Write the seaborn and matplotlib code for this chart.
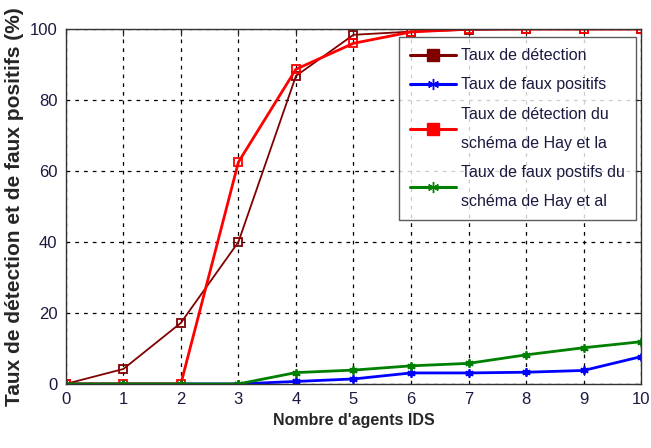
import numpy as np
import pandas as pd
import matplotlib
matplotlib.use("Agg")
import matplotlib.pyplot as plt
from matplotlib.lines import Line2D
import seaborn as sns

# nombre d'agents IDS
agents = [0, 1, 2, 3, 4, 5, 6, 7, 8, 9, 10]

# series
taux_detection = [0, 4.2, 17.2, 40, 86.8, 98.4, 99.3, 99.8, 100, 100, 100]
taux_faux_positifs = [0, 0, 0, 0, 0.7, 1.4, 3.1, 3.1, 3.3, 3.8, 7.7]
taux_detection_hay = [0, 0, 0, 62.5, 88.7, 96, 99.2, 100, 100, 100, 100]
taux_faux_hay = [0, 0, 0, 0, 3.2, 3.9, 5.1, 5.8, 8.2, 10.2, 11.9]

labels = ["Taux de détection",
          "Taux de faux positifs",
          "Taux de détection du\nschéma de Hay et la",
          "Taux de faux postifs du\nschéma de Hay et al"]
colors = ["#800000", "#0000ff", "#ff0000", "#008000"]
asterisk = (6, 2, 0)
markers = ["s", asterisk, "s", asterisk]
widths = [1.3, 2.0, 2.0, 2.0]

sns.set_style("white")
plt.rcParams['font.family'] = ['Liberation Sans', 'DejaVu Sans']

fig = plt.figure(figsize=(6.51, 4.48), dpi=100)
ax = fig.add_axes([0.101, 0.143, 0.884, 0.792])

series = [taux_detection, taux_faux_positifs, taux_detection_hay, taux_faux_hay]
for vals, c, m, lw in zip(series, colors, markers, widths):
    df = pd.DataFrame({'x': agents, 'y': vals})
    sns.lineplot(data=df, x='x', y='y', ax=ax, color=c, lw=lw, marker=m,
                 markersize=6, markerfacecolor='none', markeredgecolor=c,
                 markeredgewidth=1.3, legend=False)

ax.set_xlim(0, 10)
ax.set_ylim(0, 100)
ax.set_xticks(range(0, 11))
ax.set_yticks(range(0, 101, 20))
ax.grid(True, color='black', linestyle=(0, (3, 4)), linewidth=0.9)
for s in ax.spines.values():
    s.set_color('#333333')
    s.set_linewidth(1.0)
ax.tick_params(direction='in', length=5, top=True, right=True, labelsize=12,
               labelcolor='#1a1a40', pad=6)

ax.set_xlabel("Nombre d'agents IDS", fontsize=11.5, fontweight='bold', labelpad=4)
ax.set_ylabel("Taux de détection et de faux positifs (%)", fontsize=15,
              fontweight='bold', labelpad=4)

handles = [Line2D([], [], color=c, lw=2.2, marker=m, markersize=8,
                  markerfacecolor=c, markeredgecolor=c)
           for c, m in zip(colors, markers)]
leg = ax.legend(handles, labels, loc='upper left', bbox_to_anchor=(0.579, 0.978),
                fontsize=11.5, frameon=True, fancybox=False, edgecolor='#333333',
                handlelength=2.9, handletextpad=0.3, labelspacing=0.9,
                borderpad=0.7, borderaxespad=0.0)
leg.get_frame().set_linewidth(1.0)
for t in leg.get_texts():
    t.set_color('#1a1a40')
    t.set_linespacing(2.15)

fig.savefig("out.png", dpi=100)
